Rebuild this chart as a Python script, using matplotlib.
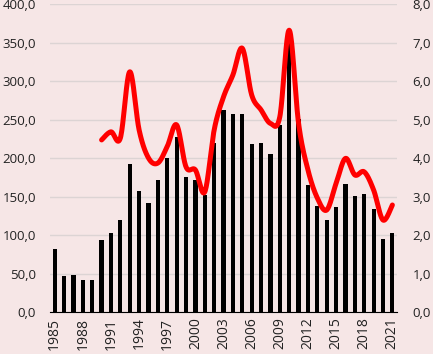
import numpy as np
import matplotlib.pyplot as plt
from matplotlib.ticker import FuncFormatter

plt.rcParams['font.family'] = ['Open Sans', 'DejaVu Sans']

years = list(range(1985, 2022))
bars = [82, 47, 48, 42, 41, 94, 103, 120, 192, 157, 142, 171, 200, 227, 175,
        172, 152, 220, 262, 257, 257, 218, 220, 205, 243, 349, 251, 165, 138,
        120, 137, 166, 151, 153, 134, 95, 103]

line_years = list(range(1990, 2022))
line = [4.47, 4.68, 4.52, 6.24, 4.73, 4.0, 3.87, 4.3, 4.86, 3.77, 3.69, 3.12,
        4.73, 5.59, 6.16, 6.85, 5.64, 5.25, 4.9, 5.07, 7.32, 4.9, 3.69, 2.96,
        2.65, 3.34, 3.99, 3.56, 3.64, 3.17, 2.39, 2.78]


def smooth(x, y, n=20):
    # Catmull-Rom curve through the points, like Excel's smoothed line
    x = np.asarray(x, float)
    y = np.asarray(y, float)
    px = np.concatenate([[x[0]], x, [x[-1]]])
    py = np.concatenate([[y[0]], y, [y[-1]]])
    xs, ys = [], []
    t = np.linspace(0, 1, n, endpoint=False)
    for i in range(1, len(px) - 2):
        for p, out in ((px, xs), (py, ys)):
            p0, p1, p2, p3 = p[i - 1], p[i], p[i + 1], p[i + 2]
            out.extend(0.5 * (2 * p1 + (-p0 + p2) * t
                              + (2 * p0 - 5 * p1 + 4 * p2 - p3) * t ** 2
                              + (-p0 + 3 * p1 - 3 * p2 + p3) * t ** 3))
    xs.append(x[-1])
    ys.append(y[-1])
    return xs, ys


def comma(v, p):
    return f'{v:.1f}'.replace('.', ',')


bg = '#F6E6E6'
fig = plt.figure(figsize=(4.33, 3.54), dpi=100, facecolor=bg)
ax = fig.add_axes([0.1155, 0.1186, 0.8015, 0.870])
ax.set_facecolor(bg)

ax.bar(years, bars, width=0.45, color='black', zorder=2)
ax.set_ylim(0, 400)
ax.set_yticks(np.arange(0, 401, 50))
ax.yaxis.set_major_formatter(FuncFormatter(comma))
ax.grid(axis='y', color='#DCD4D4', lw=1, zorder=0)
ax.set_axisbelow(True)
ax.set_xlim(1984.5, 2021.5)
ax.set_xticks(years[::3])
ax.set_xticklabels([str(y) for y in years[::3]], rotation=90)

for s in ['top', 'right', 'left']:
    ax.spines[s].set_visible(False)
ax.spines['bottom'].set_color('black')
ax.tick_params(axis='y', length=0, pad=10, labelsize=9.5, colors='#222222')
ax.tick_params(axis='x', length=0, pad=4, labelsize=10, colors='#222222')

ax2 = ax.twinx()
sx, sy = smooth(line_years, line)
ax2.plot(sx, sy, color='#FF0000', lw=3.6, solid_capstyle='round', zorder=3)
ax2.set_ylim(0, 8)
ax2.set_yticks(np.arange(0, 9, 1))
ax2.yaxis.set_major_formatter(FuncFormatter(comma))
for s in ['top', 'right', 'left', 'bottom']:
    ax2.spines[s].set_visible(False)
ax2.tick_params(axis='y', length=0, pad=11, labelsize=9.5, colors='#222222')

fig.savefig('out.png', dpi=100, facecolor=bg)
